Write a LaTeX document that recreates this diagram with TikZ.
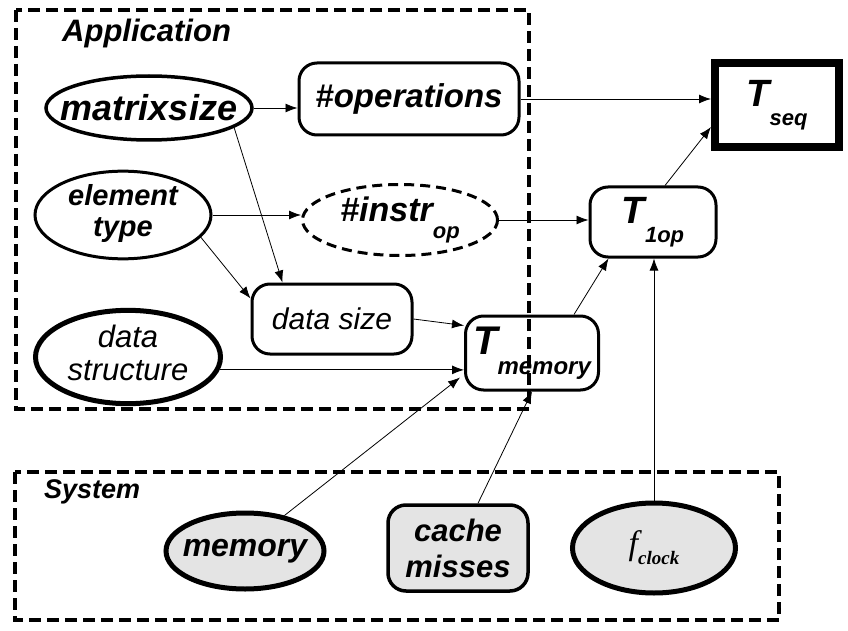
\documentclass[tikz,border=0pt]{standalone}
\usepackage{fontspec}
\setmainfont{Liberation Sans}
\newfontfamily\tnr{Liberation Serif}
\usetikzlibrary{shapes.geometric,arrows.meta,calc}
\definecolor{sysgray}{HTML}{E4E4E4}
\newcommand{\fs}[1]{\fontsize{#1}{#1}\selectfont}
\newcommand{\fsl}[2]{\fontsize{#1}{#2}\selectfont}
\newcommand{\zw}[1]{\makebox[0pt]{#1}}
\newcommand{\sub}[2]{\raisebox{-0.5em}{\fs{#1}#2}}
\begin{document}
\begin{tikzpicture}[x=1pt,y=-1pt,
  every node/.style={font=\bfseries\itshape, inner sep=0pt, align=center},
  rbox/.style={draw, rounded corners=18pt, line width=3pt},
  ell/.style={draw, ellipse, line width=3pt},
  sysfill/.style={fill=sysgray},
  conn/.style={-{Latex[length=12pt,width=9pt]}, line width=0.8pt},
  frame/.style={draw, line width=4.5pt, dash pattern=on 12pt off 6pt}]
\useasboundingbox (0,0) rectangle (848,631);

% frames
\draw[frame] (16,10) rectangle (529,409);
\draw[frame] (15,472) rectangle (779,620);
\node[anchor=west, font=\bfseries\itshape\fs{31}] (app) at (62,33) {Application};
\node[anchor=west, font=\bfseries\itshape\fs{27}] (sysl) at (44,492) {System};

% application nodes
\node[ell, line width=3.5pt, minimum width=206pt, minimum height=64pt, font=\bfseries\itshape\fs{36}] (ms) at (149,108) {\zw{matrixsize}};
\node[rbox, minimum width=220pt, minimum height=72pt, font=\bfseries\itshape\fs{33}] (ops) at (409,99) {\#operations};
\node[ell, minimum width=176pt, minimum height=76pt, font=\bfseries\itshape\fsl{29}{31}] (et) at (123,215) {\zw{\begin{tabular}{@{}c@{}}element\\type\end{tabular}}};
\node[ell, dashed, dash pattern=on 10pt off 6pt, minimum width=195pt, minimum height=71pt, font=\bfseries\itshape\fs{34}] (instr) at (400,220) {\zw{\#instr\sub{22}{op}}};
\node[rbox, minimum width=160pt, minimum height=70pt, font=\itshape\fs{30}] (ds) at (332,319) {data size};
\node[ell, line width=5pt, minimum width=185pt, minimum height=82pt, font=\itshape\fsl{31}{33}] (dstr) at (128,357) {\zw{\begin{tabular}{@{}c@{}}data\\structure\end{tabular}}};

% right nodes
\node[draw, line width=8pt, minimum width=124pt, minimum height=84pt, font=\bfseries\itshape\fs{38}] (tseq) at (777,105) {T\sub{22}{seq}};
\node[rbox, minimum width=126pt, minimum height=70pt, font=\bfseries\itshape\fs{38}] (t1) at (653,222) {T\sub{22}{1op}};
\node[rbox, minimum width=133pt, minimum height=74pt, font=\bfseries\itshape\fs{40}] (tm) at (532,353) {T\sub{24}{memory}};

% system nodes
\node[ell, sysfill, line width=5pt, minimum width=158pt, minimum height=76pt, font=\bfseries\itshape\fs{32}] (mem) at (245,551) {\zw{memory}};
\node[rbox, sysfill, line width=3.5pt, minimum width=140pt, minimum height=86pt, font=\bfseries\itshape\fsl{31}{36}] (cm) at (458,548) {cache\\misses};
\node[ell, sysfill, line width=5pt, minimum width=163pt, minimum height=90pt, font=\tnr\itshape\fs{34}] (fc) at (654,548) {\zw{f\raisebox{-0.3em}{\fs{19}\bfseries clock}}};

% connectors
\draw[conn] (ms.east) -- (ms.east -| ops.west);
\draw[conn] (ops.east) -- (ops.east -| tseq.west);
\draw[conn] (ms.-13) -- ($(ds.north west)+(32,0)$);
\draw[conn] (et.east) -- (et.east -| instr.west);
\draw[conn] (et.-16) -- ($(ds.north west)+(0,16)$);
\draw[conn] (instr.east) -- (instr.east -| t1.west);
\draw[conn] ($(t1.north)+(12,0)$) -- ($(tseq.south west)+(0,-24)$);
\draw[conn] (ds.east) -- ($(tm.north west)+(0,11)$);
\draw[conn] (dstr.-8) -- (dstr.-8 -| tm.west);
\draw[conn] (mem.42) -- ($(tm.south west)+(-4,-14)$);
\draw[conn] ($(cm.north)+(20,0)$) -- (tm.south);
\draw[conn] (fc.north) -- (fc.north |- t1.south);
\draw[conn] ($(tm.north)+(42,0)$) -- ($(t1.south west)+(20,0)$);
\end{tikzpicture}
\end{document}
